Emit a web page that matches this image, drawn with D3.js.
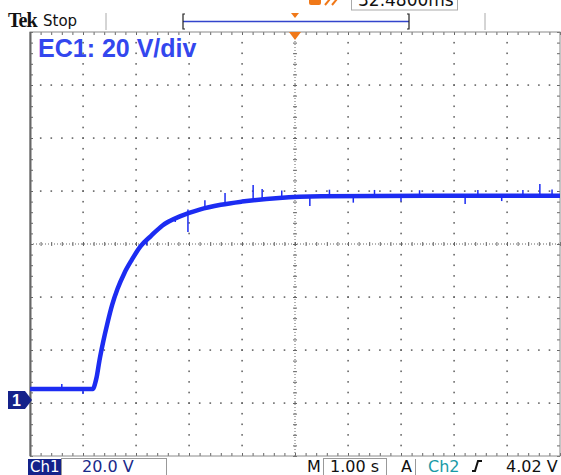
<!DOCTYPE html>
<html>
<head>
<meta charset="utf-8">
<script src="https://cdn.jsdelivr.net/npm/d3@7"></script>
<style>
  body { margin: 0; background: #fff; }
</style>
</head>
<body>
<div id="chart"></div>
<script>
const width = 561;
const height = 475;

const plotLeft = 30, plotRight = 560, plotTop = 32, plotBottom = 456;

const colorTrace = '#1c2cf2';
const colorGrid = '#666';
const colorNavy = '#14228a';
const colorOrange = '#f07818';
const sans = '"DejaVu Sans", Verdana, sans-serif';

// trace: seconds from left edge, volts
const timeS = [0, 1.19, 1.23, 1.26, 1.31, 1.38, 1.46, 1.55, 1.65, 1.78, 1.92, 2.08, 2.28, 2.50, 2.84, 3.20, 3.60, 4.00, 4.70, 5.50, 7.50, 10];
const volts = [5.3, 5.3, 7.5, 10, 16, 23, 30, 37, 43, 49, 54, 59, 63, 67, 70.5, 73, 74.8, 76, 77.4, 78, 78.2, 78.2];

// visible glitches on the trace
const spikeT    = [0.6, 1.0, 2.2, 2.74, 2.98, 3.3, 3.68, 4.21, 4.38, 4.75, 5.28, 5.65, 6.1, 6.5, 7.0, 7.35, 8.21, 8.45, 8.9, 9.30, 9.62, 9.85];
const spikeFrom = [5.3, 5.3, 62, 70, 73, 73.5, 75, 76.5, 76.8, 77.4, 78, 78, 78, 78.1, 78.2, 78.2, 78.2, 78.2, 78.2, 78.2, 78.2, 78.2];
const spikeTo   = [7.2, 3.4, 59.5, 68.3, 64.5, 76.5, 79.2, 82.3, 80.8, 80.2, 74.3, 80.5, 75.6, 80.4, 76, 80.3, 75.1, 80.4, 76.2, 80.4, 82.6, 80.6];

const timeDomain = [0, 10];      // 1.00 s/div, 10 div
const voltDomain = [-20, 140];   // 20 V/div, 8 div, ground 1 div up from bottom

const svg = d3.select('#chart')
    .append('svg')
    .attr('width', width)
    .attr('height', height)
    .style('font-family', sans);

svg.append('rect')
    .attr('width', width)
    .attr('height', height)
    .attr('fill', '#fff');

const x = d3.scaleLinear().domain(timeDomain).range([plotLeft, plotRight]);
const y = d3.scaleLinear().domain(voltDomain).range([plotBottom, plotTop]);

const minorX = d3.range(0, 10.001, 0.2);
const minorY = d3.range(-20, 140.001, 4);
const majorX = d3.range(1, 10, 1);
const majorY = d3.range(0, 140, 20);

// ---- graticule dots
const grid = svg.append('g');
majorX.filter(d => d !== 5).forEach(t => {
    grid.selectAll(null)
        .data(minorY.slice(1, -1))
        .enter().append('rect')
        .attr('x', x(t) - 0.7)
        .attr('y', d => y(d) - 0.7)
        .attr('width', 1.6)
        .attr('height', 1.6)
        .attr('fill', colorGrid);
});
majorY.filter(d => d !== 60).forEach(v => {
    grid.selectAll(null)
        .data(minorX.slice(1, -1))
        .enter().append('rect')
        .attr('x', d => x(d) - 0.7)
        .attr('y', y(v) - 0.7)
        .attr('width', 1.6)
        .attr('height', 1.6)
        .attr('fill', colorGrid);
});

// ---- centre axes
svg.append('line')
    .attr('x1', plotLeft).attr('x2', plotRight)
    .attr('y1', y(60)).attr('y2', y(60))
    .attr('stroke', colorGrid)
    .attr('stroke-dasharray', '1,2');
svg.append('line')
    .attr('x1', x(5)).attr('x2', x(5))
    .attr('y1', plotTop).attr('y2', plotBottom)
    .attr('stroke', colorGrid)
    .attr('stroke-dasharray', '1,2');

function tickAxis(axis, tx, ty) {
    const g = svg.append('g')
        .attr('transform', 'translate(' + tx + ',' + ty + ')')
        .call(axis.tickFormat(''));
    g.select('.domain').remove();
    g.selectAll('.tick line').attr('stroke', colorGrid);
    return g;
}

tickAxis(d3.axisBottom(x).tickValues(minorX).tickSize(4), 0, y(60) - 2);
tickAxis(d3.axisRight(y).tickValues(minorY).tickSize(4), x(5) - 2, 0);

// ---- border with inward ticks
tickAxis(d3.axisBottom(x).tickValues(minorX).tickSize(3), 0, plotTop);
tickAxis(d3.axisTop(x).tickValues(minorX).tickSize(3), 0, plotBottom);
tickAxis(d3.axisRight(y).tickValues(minorY).tickSize(3), plotLeft, 0);
tickAxis(d3.axisLeft(y).tickValues(minorY).tickSize(3), plotRight, 0);

svg.append('rect')
    .attr('x', plotLeft)
    .attr('y', plotTop)
    .attr('width', plotRight - plotLeft)
    .attr('height', plotBottom - plotTop)
    .attr('fill', 'none')
    .attr('stroke', '#8a8a8a')
    .attr('stroke-width', 1);
svg.append('line')
    .attr('x1', plotLeft + 0.5).attr('x2', plotLeft + 0.5)
    .attr('y1', plotTop).attr('y2', plotBottom)
    .attr('stroke', '#666')
    .attr('stroke-width', 2);

// ---- trace
const line = d3.line()
    .x((d, i) => x(timeS[i]))
    .y(d => y(d))
    .curve(d3.curveMonotoneX);

svg.append('path')
    .datum(volts)
    .attr('d', line)
    .attr('fill', 'none')
    .attr('stroke', colorTrace)
    .attr('stroke-width', 4.5)
    .attr('stroke-linejoin', 'round');

svg.append('g').selectAll('line')
    .data(spikeT)
    .enter().append('line')
    .attr('x1', d => x(d)).attr('x2', d => x(d))
    .attr('y1', (d, i) => y(spikeFrom[i]))
    .attr('y2', (d, i) => y(spikeTo[i]))
    .attr('stroke', colorTrace)
    .attr('stroke-width', 1.5);

// channel label inside the plot
svg.append('text')
    .attr('x', 38)
    .attr('y', 57)
    .style('font-family', '"Liberation Sans", Arial, sans-serif')
    .attr('font-weight', 'bold')
    .attr('font-size', 25)
    .attr('fill', '#3347ee')
    .text('EC1: 20 V/div');

// ground marker "1"
svg.append('path')
    .attr('d', 'M8,391 L25,391 L32,400 L25,409 L8,409 Z')
    .attr('fill', colorNavy);
svg.append('text')
    .attr('x', 12)
    .attr('y', 406)
    .style('font-family', '"Liberation Sans", Arial, sans-serif')
    .attr('font-size', 16)
    .attr('font-weight', 'bold')
    .attr('fill', '#fff')
    .text('1');

// trigger position marker on top edge
svg.append('path')
    .attr('d', 'M' + (x(5) - 6) + ',' + plotTop + ' L' + (x(5) + 6) + ',' + plotTop + ' L' + x(5) + ',' + (plotTop + 8) + ' Z')
    .attr('fill', colorOrange);

// ---- header
svg.append('text')
    .attr('x', 8)
    .attr('y', 27)
    .style('font-family', '"Liberation Serif", "DejaVu Serif", serif')
    .attr('font-weight', 'bold')
    .attr('font-size', 20)
    .attr('letter-spacing', -1)
    .attr('fill', '#111')
    .text('Tek');
svg.append('text')
    .attr('x', 43)
    .attr('y', 26)
    .attr('font-size', 15)
    .attr('fill', '#111')
    .text('Stop');

[106, 485].forEach(sx => {
    svg.append('line')
        .attr('x1', sx).attr('x2', sx)
        .attr('y1', 13).attr('y2', 30)
        .attr('stroke', '#aaa');
});

// record view bar
svg.append('line')
    .attr('x1', 183).attr('x2', 409)
    .attr('y1', 21.5).attr('y2', 21.5)
    .attr('stroke', '#3344cc')
    .attr('stroke-width', 1.5);
svg.append('path')
    .attr('d', 'M185,14 L183,14 L183,29 L185,29 M407,14 L409,14 L409,29 L407,29')
    .attr('fill', 'none')
    .attr('stroke', '#222')
    .attr('stroke-width', 1.2);
svg.append('path')
    .attr('d', 'M291,13 L299,13 L295,18 Z')
    .attr('fill', colorOrange);

// trigger delay readout (cut at the top)
svg.append('rect')
    .attr('x', 309).attr('y', -6)
    .attr('width', 12).attr('height', 11)
    .attr('rx', 2)
    .attr('fill', colorOrange);
svg.append('path')
    .attr('d', 'M325,5 L330,-1 M332,5 L337,-1')
    .attr('stroke', colorOrange)
    .attr('stroke-width', 2);
svg.append('rect')
    .attr('x', 351.5).attr('y', -10)
    .attr('width', 106).attr('height', 20)
    .attr('fill', '#fff')
    .attr('stroke', '#aaa');
svg.append('text')
    .attr('x', 358)
    .attr('y', 6)
    .attr('font-size', 17)
    .attr('fill', '#111')
    .text('32.4800ms');

// ---- status bar
const statusY = 472;
svg.append('rect')
    .attr('x', 28).attr('y', 459)
    .attr('width', 33).attr('height', 16)
    .attr('fill', colorNavy);
svg.append('text')
    .attr('x', 30).attr('y', statusY)
    .attr('font-size', 15)
    .attr('fill', '#fff')
    .text('Ch1');
svg.append('rect')
    .attr('x', 61.5).attr('y', 458.5)
    .attr('width', 105).attr('height', 20)
    .attr('fill', 'none')
    .attr('stroke', '#999');
svg.append('text')
    .attr('x', 82).attr('y', statusY)
    .attr('font-size', 16)
    .attr('fill', '#1a2a8a')
    .text('20.0 V');

svg.append('text')
    .attr('x', 307).attr('y', statusY)
    .attr('font-size', 16)
    .attr('fill', '#111')
    .text('M');
svg.append('rect')
    .attr('x', 323.5).attr('y', 458.5)
    .attr('width', 63).attr('height', 20)
    .attr('fill', 'none')
    .attr('stroke', '#999');
svg.append('text')
    .attr('x', 330).attr('y', statusY)
    .attr('font-size', 16)
    .attr('fill', '#111')
    .text('1.00 s');

svg.append('text')
    .attr('x', 401).attr('y', statusY)
    .attr('font-size', 16)
    .attr('fill', '#111')
    .text('A');
svg.append('line')
    .attr('x1', 415.5).attr('x2', 415.5)
    .attr('y1', 459).attr('y2', 475)
    .attr('stroke', '#999');
svg.append('text')
    .attr('x', 428).attr('y', statusY)
    .attr('font-size', 16)
    .attr('fill', '#1a9aa6')
    .text('Ch2');
svg.append('path')
    .attr('d', 'M472,471 L475,471 L478,461 L482,461')
    .attr('fill', 'none')
    .attr('stroke', '#111')
    .attr('stroke-width', 2);
svg.append('text')
    .attr('x', 506).attr('y', statusY)
    .attr('font-size', 16)
    .attr('fill', '#111')
    .text('4.02 V');
</script>
</body>
</html>
